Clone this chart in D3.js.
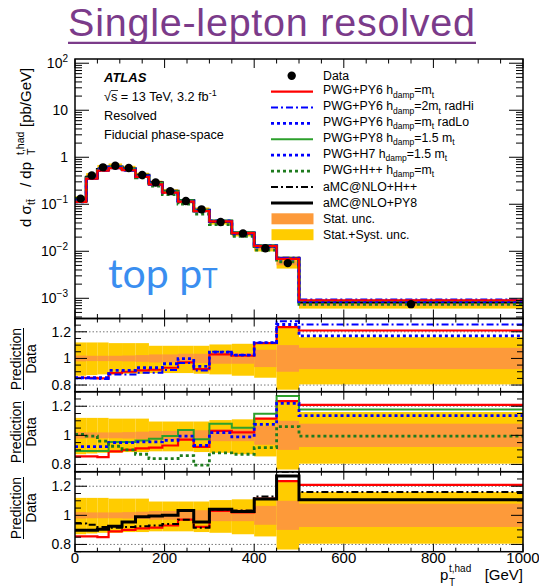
<!DOCTYPE html>
<html><head><meta charset="utf-8">
<script src="https://cdn.jsdelivr.net/npm/d3@7"></script>
<style>body{margin:0;background:#fff}svg{display:block}</style>
</head><body>
<script>
// Hadronic top pT bins [GeV]
const binEdges = [0,25,50,75,105,135,165,195,230,265,300,350,400,450,500,1000];
// Measured fiducial cross-section dσ/dpT [pb/GeV]
const dataXsec = [0.132,0.41,0.61,0.66,0.59,0.42,0.29,0.19,0.117,0.078,0.042,0.0238,0.0116,0.0056,0.00075];
// Relative uncertainties (stat; stat+syst up/down)
const statUnc = [0.022,0.02,0.02,0.02,0.022,0.025,0.03,0.03,0.035,0.035,0.04,0.04,0.065,0.1,0.08];
const totUp   = [0.12,0.12,0.12,0.115,0.115,0.115,0.095,0.095,0.095,0.095,0.105,0.11,0.12,0.24,0.16];
const totDn   = [0.13,0.125,0.12,0.12,0.115,0.115,0.11,0.11,0.11,0.115,0.12,0.13,0.145,0.235,0.195];
// Prediction / Data
const ratioPwgPy6 = [0.855,0.855,0.85,0.89,0.9,0.91,0.915,0.93,0.97,0.92,1.03,1.02,1.115,1.235,1.21];
const ratioRadHi  = [0.852,0.85,0.845,0.88,0.88,0.893,0.893,0.913,0.965,0.91,1.05,1.025,1.118,1.28,1.255];
const ratioRadLo  = [0.855,0.855,0.855,0.91,0.91,0.93,0.93,0.96,0.998,0.94,1.048,1.025,1.118,1.255,1.17];
const ratioPy8    = [0.893,0.893,0.893,0.955,0.955,0.965,0.977,0.995,1.036,0.973,1.08,1.052,1.148,1.27,1.177];
const ratioH7     = [0.923,0.923,0.923,0.95,0.95,0.955,0.955,0.966,0.995,0.93,1.018,0.99,1.075,1.22,1.136];
const ratioHpp    = [1.007,0.995,0.96,0.925,0.9,0.87,0.84,0.84,0.86,0.795,0.88,0.87,0.916,1.06,0.995];
const ratioAmcHpp = [0.944,0.935,0.92,0.915,0.92,0.925,0.93,0.94,0.97,0.915,1.04,1.033,1.13,1.3,1.16];
const ratioAmcPy8 = [0.897,0.897,0.905,0.925,0.955,0.99,0.995,1.0,1.033,0.955,1.042,1.026,1.113,1.27,1.108];

const xTickValues = [0,200,400,600,800,1000];
const ratioTickValues = [0.8,1,1.2];
const mainDecades = [-3,-2,-1,0,1,2];

const FONT = "'Liberation Sans', Arial, Helvetica, sans-serif";
const W = 539, H = 587;
const X0 = 75, X1 = 523;
const mainTop = 59, mainBot = 318.5;
const panels = [{top:318.5, bot:391.7}, {top:391.7, bot:471.7}, {top:471.7, bot:551.7}];

const styles = {
  pwgPy6: {color:'#ff0000', w:2.2, dash:null},
  radHi:  {color:'#0000ff', w:2, dash:'7,3,2,3'},
  radLo:  {color:'#0000ff', w:2.8, dash:'3,3'},
  py8:    {color:'#2ca02c', w:2, dash:null},
  h7:     {color:'#0000ff', w:2.8, dash:'3,3'},
  hpp:    {color:'#1e7b1e', w:2.8, dash:'3,3'},
  amcHpp: {color:'#000000', w:2, dash:'7,3,2,3'},
  amcPy8: {color:'#000000', w:3, dash:null}
};
const ratios = {pwgPy6:ratioPwgPy6, radHi:ratioRadHi, radLo:ratioRadLo, py8:ratioPy8,
  h7:ratioH7, hpp:ratioHpp, amcHpp:ratioAmcHpp, amcPy8:ratioAmcPy8};
const ORANGE = '#fd9a3a', YELLOW = '#ffcc00';

const svg = d3.select('body').append('svg').attr('width', W).attr('height', H)
  .style('font-family', FONT);

const x = d3.scaleLinear().domain([0,1000]).range([X0,X1]);
const yMain = d3.scaleLog().domain([Math.pow(10,-3.43), Math.pow(10,2.09)]).range([mainBot, mainTop]);
const yRatio = panels.map(p => d3.scaleLinear().domain([0.75,1.3]).range([p.bot, p.top]));

const line = d3.line();
function stepPoints(vals, ys) {
  const pts = [];
  vals.forEach((v,i) => { pts.push([x(binEdges[i]), ys(v)]); pts.push([x(binEdges[i+1]), ys(v)]); });
  return pts;
}
function drawStep(g, vals, ys, st) {
  g.append('path').attr('d', line(stepPoints(vals, ys))).attr('fill','none')
    .attr('stroke', st.color).attr('stroke-width', st.w)
    .attr('stroke-dasharray', st.dash);
}
function addClip(id, top, bot) {
  svg.append('clipPath').attr('id', id).append('rect')
    .attr('x', X0).attr('y', top).attr('width', X1 - X0).attr('height', bot - top);
}

// ---------- Title ----------
svg.append('text').attr('x', 271.5).attr('y', 36).attr('text-anchor','middle')
  .style('font-size','39.5px').attr('textLength', 407).attr('lengthAdjust','spacing')
  .attr('fill','#7b3b8a').text('Single-lepton resolved');
svg.append('line').attr('x1',68).attr('x2',476).attr('y1',42.8).attr('y2',42.8)
  .attr('stroke','#7b3b8a').attr('stroke-width',2.2);

// ---------- Main panel ----------
addClip('clipMain', mainTop, mainBot);
const gMain = svg.append('g').attr('clip-path','url(#clipMain)');
dataXsec.forEach((d,i) => {
  gMain.append('rect').attr('x', x(binEdges[i])).attr('width', x(binEdges[i+1]) - x(binEdges[i]))
    .attr('y', yMain(d*(1+totUp[i]))).attr('height', yMain(d*(1-totDn[i])) - yMain(d*(1+totUp[i])))
    .attr('fill', YELLOW);
  gMain.append('rect').attr('x', x(binEdges[i])).attr('width', x(binEdges[i+1]) - x(binEdges[i]))
    .attr('y', yMain(d*(1+statUnc[i]))).attr('height', yMain(d*(1-statUnc[i])) - yMain(d*(1+statUnc[i])))
    .attr('fill', ORANGE);
});
['amcPy8','amcHpp','hpp','h7','py8','radLo','radHi','pwgPy6'].forEach(k => {
  const pred = dataXsec.map((d,i) => d * ratios[k][i]);
  drawStep(gMain, pred, yMain, styles[k]);
});
dataXsec.forEach((d,i) => {
  gMain.append('circle').attr('cx', x((binEdges[i]+binEdges[i+1])/2)).attr('cy', yMain(d))
    .attr('r', 4.2).attr('fill','#000');
});

// ---------- Ratio panels ----------
const panelSeries = [['pwgPy6','radHi','radLo'], ['pwgPy6','py8','h7','hpp'], ['pwgPy6','amcHpp','amcPy8']];
panels.forEach((p, pi) => {
  const ys = yRatio[pi];
  addClip('clipR' + pi, p.top, p.bot);
  const g = svg.append('g').attr('clip-path', 'url(#clipR' + pi + ')');
  [0.8, 1.2].forEach(v => g.append('line').attr('x1', X0).attr('x2', X1).attr('y1', ys(v)).attr('y2', ys(v))
    .attr('stroke','#777').attr('stroke-width',1).attr('stroke-dasharray','1.5,2'));
  binEdges.slice(0,-1).forEach((e,i) => {
    const xa = x(e), xb = x(binEdges[i+1]);
    g.append('rect').attr('x', xa).attr('width', xb - xa).attr('y', ys(1+totUp[i]))
      .attr('height', ys(1-totDn[i]) - ys(1+totUp[i])).attr('fill', YELLOW);
    g.append('rect').attr('x', xa).attr('width', xb - xa).attr('y', ys(1+statUnc[i]))
      .attr('height', ys(1-statUnc[i]) - ys(1+statUnc[i])).attr('fill', ORANGE);
  });
  panelSeries[pi].forEach(k => drawStep(g, ratios[k], ys, styles[k]));
});

// ---------- Frames and ticks ----------
const xMinor = d3.range(0, 1001, 50).filter(v => v % 200 !== 0);
function drawXTicks(top, bot, majLen, minLen) {
  const g = svg.append('g').attr('stroke','#000').attr('stroke-width',1);
  xTickValues.forEach(v => {
    g.append('line').attr('x1',x(v)).attr('x2',x(v)).attr('y1',top).attr('y2',top+majLen);
    g.append('line').attr('x1',x(v)).attr('x2',x(v)).attr('y1',bot).attr('y2',bot-majLen);
  });
  xMinor.forEach(v => {
    g.append('line').attr('x1',x(v)).attr('x2',x(v)).attr('y1',top).attr('y2',top+minLen);
    g.append('line').attr('x1',x(v)).attr('x2',x(v)).attr('y1',bot).attr('y2',bot-minLen);
  });
}
function drawYTicks(major, minor, ys, majLen, minLen) {
  const g = svg.append('g').attr('stroke','#000').attr('stroke-width',1);
  major.forEach(v => {
    g.append('line').attr('x1',X0).attr('x2',X0+majLen).attr('y1',ys(v)).attr('y2',ys(v));
    g.append('line').attr('x1',X1).attr('x2',X1-majLen).attr('y1',ys(v)).attr('y2',ys(v));
  });
  minor.forEach(v => {
    g.append('line').attr('x1',X0).attr('x2',X0+minLen).attr('y1',ys(v)).attr('y2',ys(v));
    g.append('line').attr('x1',X1).attr('x2',X1-minLen).attr('y1',ys(v)).attr('y2',ys(v));
  });
}
function frame(top, bot) {
  svg.append('rect').attr('x',X0).attr('y',top).attr('width',X1-X0).attr('height',bot-top)
    .attr('fill','none').attr('stroke','#000').attr('stroke-width',1.5);
}

// main axis ticks
const mainMajor = mainDecades.map(e => Math.pow(10,e));
const mainMinor = [];
d3.range(-4, 3).forEach(e => d3.range(2,10).forEach(m => {
  const v = m * Math.pow(10,e);
  if (v >= yMain.domain()[0] && v <= yMain.domain()[1]) mainMinor.push(v);
}));
drawYTicks(mainMajor, mainMinor, yMain, 14, 7);
drawXTicks(mainTop, mainBot, 9, 4.5);
frame(mainTop, mainBot);

const rMinor = [0.75,0.85,0.9,0.95,1.05,1.1,1.15,1.25,1.3];
panels.forEach((p, pi) => {
  drawYTicks(ratioTickValues, rMinor, yRatio[pi], 12, 6);
  drawXTicks(p.top, p.bot, 8, 4);
  frame(p.top, p.bot);
});

// main y tick labels (powers of ten)
mainDecades.forEach(e => {
  const t = svg.append('text').attr('x', 68).attr('y', yMain(Math.pow(10,e)) + 5)
    .attr('text-anchor','end').style('font-size','14px');
  if (e === 0) t.text('1');
  else if (e === 1) t.text('10');
  else {
    t.append('tspan').text('10');
    t.append('tspan').attr('dy',-6).style('font-size','10px').text(e < 0 ? '\u2212' + (-e) : String(e));
  }
});
// ratio tick labels
panels.forEach((p, pi) => {
  ratioTickValues.forEach(v => {
    svg.append('text').attr('x', 71).attr('y', yRatio[pi](v) + 5).attr('text-anchor','end')
      .style('font-size','14px').text(v === 1 ? '1' : d3.format('.1f')(v));
  });
});
// x tick labels
xTickValues.forEach(v => {
  svg.append('text').attr('x', x(v)).attr('y', 562.5).attr('text-anchor','middle')
    .style('font-size','15px').text(v);
});

// x axis title
svg.append('text').attr('x',440).attr('y',580).style('font-size','15px').text('p');
svg.append('text').attr('x',449).attr('y',572).style('font-size','10px').text('t,had');
svg.append('text').attr('x',449).attr('y',586).style('font-size','10px').text('T');
svg.append('text').attr('x',523).attr('y',580).attr('text-anchor','end').style('font-size','15px').text('[GeV]');

// main y axis title
const gyt = svg.append('g').attr('transform','translate(31,227) rotate(-90)');
gyt.append('text').attr('x',0).attr('y',0).style('font-size','15px').text('d \u03c3');
gyt.append('text').attr('x',22).attr('y',4).style('font-size','10.5px').text('tt\u0304');
gyt.append('text').attr('x',40).attr('y',0).style('font-size','15px').text('/ dp');
gyt.append('text').attr('x',72).attr('y',-7).style('font-size','10.5px').text('t,had');
gyt.append('text').attr('x',72).attr('y',4).style('font-size','10.5px').text('T');
gyt.append('text').attr('x',100).attr('y',0).style('font-size','15px').text('[pb/GeV]');

// ratio y titles
[359, 432, 508].forEach(yc => {
  const g = svg.append('g').attr('transform', `translate(23.5,${yc}) rotate(-90)`);
  g.append('text').attr('x',0).attr('y',-2.5).attr('text-anchor','middle').style('font-size','14px').text('Prediction');
  g.append('line').attr('x1',-31).attr('x2',31).attr('y1',0).attr('y2',0).attr('stroke','#000').attr('stroke-width',1);
  g.append('text').attr('x',0).attr('y',12.5).attr('text-anchor','middle').style('font-size','14px').text('Data');
});

// ---------- Labels inside main panel ----------
svg.append('text').attr('x',104).attr('y',81.5).style('font-size','13px')
  .style('font-weight','bold').style('font-style','italic').text('ATLAS');
const sq = svg.append('text').attr('x',104).attr('y',101).style('font-size','12.7px');
sq.append('tspan').text('\u221as = 13 TeV, 3.2 fb');
sq.append('tspan').attr('dy',-5).style('font-size','9px').text('-1');
svg.append('line').attr('x1',111).attr('x2',118).attr('y1',90.5).attr('y2',90.5).attr('stroke','#000').attr('stroke-width',0.8);
svg.append('text').attr('x',104).attr('y',120).style('font-size','12.7px').text('Resolved');
svg.append('text').attr('x',104).attr('y',139).style('font-size','12.7px').text('Fiducial phase-space');

// big label
const tp = svg.append('text').attr('x',108).attr('y',288).attr('fill','#3a8ef0')
  .style('font-family',"Lato, 'Open Sans', sans-serif").style('font-size','41px');
tp.append('tspan').text('top p');
tp.append('tspan').style('font-size','26px').text('T');

// ---------- Legend ----------
const legendEntries = [
  {kind:'marker', label:[['Data']]},
  {kind:'pwgPy6', label:[['PWG+PY6 h'],['damp','sub'],['=m'],['t','sub']]},
  {kind:'radHi',  label:[['PWG+PY6 h'],['damp','sub'],['=2m'],['t','sub'],[' radHi']]},
  {kind:'radLo',  label:[['PWG+PY6 h'],['damp','sub'],['=m'],['t','sub'],[' radLo']]},
  {kind:'py8',    label:[['PWG+PY8 h'],['damp','sub'],['=1.5 m'],['t','sub']]},
  {kind:'h7',     label:[['PWG+H7 h'],['damp','sub'],['=1.5 m'],['t','sub']]},
  {kind:'hpp',    label:[['PWG+H++ h'],['damp','sub'],['=m'],['t','sub']]},
  {kind:'amcHpp', label:[['aMC@NLO+H++']]},
  {kind:'amcPy8', label:[['aMC@NLO+PY8']]},
  {kind:'stat',   label:[['Stat. unc.']]},
  {kind:'tot',    label:[['Stat.+Syst. unc.']]}
];
legendEntries.forEach((e, i) => {
  const yc = 75.7 + i * 15.9;
  if (e.kind === 'marker') {
    svg.append('circle').attr('cx',291.7).attr('cy',yc).attr('r',4.2).attr('fill','#000');
  } else if (e.kind === 'stat' || e.kind === 'tot') {
    svg.append('rect').attr('x',271.5).attr('y',yc-5.5).attr('width',42).attr('height',11)
      .attr('fill', e.kind === 'stat' ? ORANGE : YELLOW);
  } else {
    const st = styles[e.kind];
    svg.append('line').attr('x1',271).attr('x2',313).attr('y1',yc).attr('y2',yc)
      .attr('stroke',st.color).attr('stroke-width',st.w).attr('stroke-dasharray',st.dash);
  }
  const hasSub = e.label.some(s => s[1] === 'sub');
  const t = svg.append('text').attr('x',323).attr('y', yc + (hasSub ? 2.5 : 4.3)).style('font-size','12.3px');
  let down = false;
  e.label.forEach(s => {
    const ts = t.append('tspan').text(s[0]);
    if (s[1] === 'sub') { ts.style('font-size','8.5px').attr('dy', down ? 0 : 3.5); down = true; }
    else if (down) { ts.attr('dy', -3.5); down = false; }
  });
});
</script>
</body></html>
